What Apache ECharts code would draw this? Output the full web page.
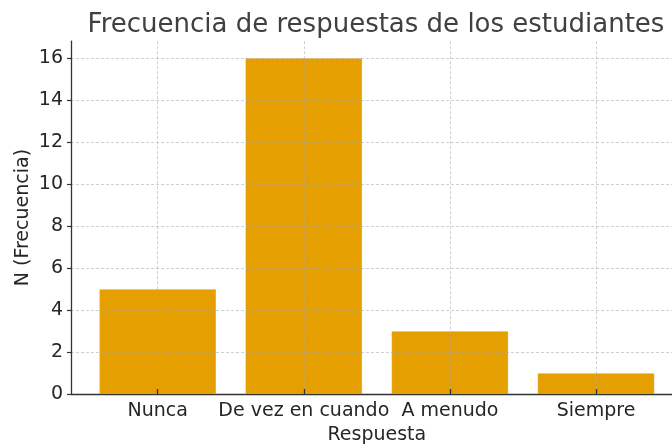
<!DOCTYPE html>
<html>
<head>
<meta charset="utf-8">
<script src="https://cdn.jsdelivr.net/npm/echarts@6/dist/echarts.min.js"></script>
<style>
  html, body { margin: 0; padding: 0; background: #fff; }
  #chart { width: 672px; height: 447px; }
</style>
</head>
<body>
<div id="chart"></div>
<script>
// datos
const categorias = ['Nunca', 'De vez en cuando', 'A menudo', 'Siempre']
const frecuencias = [5, 16, 3, 1]
const yTicks = [0, 2, 4, 6, 8, 10, 12, 14, 16]

const font = 'DejaVu Sans'
const ink = '#262626'
const gridLine = { show: true, lineStyle: { color: 'rgba(170,170,170,0.55)', type: [3, 2], width: 1 } }

const chart = echarts.init(document.getElementById('chart'))

const option = {
  animation: false,
  title: {
    text: 'Frecuencia de respuestas de los estudiantes',
    left: 371, top: 7, textAlign: 'center',
    textStyle: { fontFamily: font, fontSize: 26, fontWeight: 'normal', color: '#404040' }
  },
  grid: [
    // ejes (spines)
    { left: 71, right: -9, top: 41.2, bottom: 53, outerBoundsMode: 'none' },
    // barras, centros de categoria en 0..3
    { left: 157.7, right: 76, top: 41.2, bottom: 53, outerBoundsMode: 'none' },
    // etiquetas y lineas horizontales
    { left: 71, right: -9, top: 58, bottom: 53, outerBoundsMode: 'none' }
  ],
  xAxis: [
    {
      gridIndex: 0, type: 'value', min: 0, max: 1, z: 5,
      axisLine: { show: true, lineStyle: { color: '#333', width: 1.3 } },
      axisTick: { show: false }, axisLabel: { show: false }, splitLine: { show: false }
    },
    {
      gridIndex: 1, type: 'value', min: 0, max: categorias.length - 1, interval: 1, z: 4,
      axisLine: { show: false },
      axisTick: { show: true, inside: true, length: 5, lineStyle: { color: '#333', width: 1.3 } },
      axisLabel: {
        show: true, margin: 8, color: ink, fontFamily: font, fontSize: 19,
        formatter: v => categorias[v] || ''
      },
      splitLine: gridLine,
      name: 'Respuesta', nameLocation: 'middle', nameGap: 32,
      nameTextStyle: { fontFamily: font, fontSize: 19, color: ink }
    },
    {
      gridIndex: 2, type: 'value', show: false
    }
  ],
  yAxis: [
    {
      gridIndex: 0, type: 'value', min: 0, max: 1, z: 5,
      axisLine: { show: true, lineStyle: { color: '#333', width: 1.3 } },
      axisTick: { show: false }, axisLabel: { show: false }, splitLine: { show: false },
      name: 'N (Frecuencia)', nameLocation: 'middle', nameGap: 38,
      nameTextStyle: { fontFamily: font, fontSize: 19, color: ink }
    },
    {
      gridIndex: 1, type: 'value', min: 0, max: 16.8, show: false
    },
    {
      gridIndex: 2, type: 'value', min: yTicks[0], max: yTicks[yTicks.length - 1], interval: 2, z: 3,
      axisLine: { show: false },
      axisTick: { show: true, length: 4, lineStyle: { color: '#333', width: 1.2 } },
      axisLabel: { show: true, margin: 8, color: ink, fontFamily: font, fontSize: 19 },
      splitLine: gridLine
    }
  ],
  series: [
    {
      type: 'bar',
      xAxisIndex: 1, yAxisIndex: 1,
      barWidth: 117,
      clip: false,
      z: 2,
      data: frecuencias.map((v, i) => [i, v]),
      itemStyle: { color: '#E69F00', borderColor: 'rgba(255,255,255,0.6)', borderWidth: 0.5 }
    }
  ]
}

chart.setOption(option)
</script>
</body>
</html>
